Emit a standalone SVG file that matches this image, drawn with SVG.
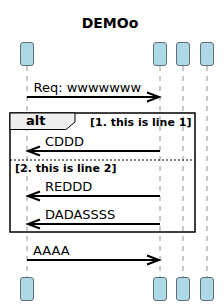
<svg xmlns="http://www.w3.org/2000/svg" width="224" height="308" viewBox="0 0 224 308">
<style>
.part{fill:#ADD8E6;stroke:#5F6F77;stroke-width:1}
.life{stroke:#777;stroke-width:0.8;stroke-dasharray:5,5;fill:none}
.msg{stroke:#000;stroke-width:1.8;fill:none}
.head{stroke:#000;stroke-width:2;fill:none;stroke-linejoin:miter}
.t{font-family:"DejaVu Sans",sans-serif;font-size:13px;fill:#000}
.b{font-family:"DejaVu Sans",sans-serif;font-weight:bold;fill:#000}
</style>
<rect width="224" height="308" fill="#fff"/>
<text class="b" x="110" y="28" font-size="14" text-anchor="middle">DEMOo</text>
<g id="lifelines">
<line class="life" x1="27" y1="66" x2="27" y2="277"/>
<line class="life" x1="160" y1="66" x2="160" y2="277"/>
<line class="life" x1="183" y1="66" x2="183" y2="277"/>
<line class="life" x1="207" y1="66" x2="207" y2="277"/>
</g>
<g id="p1"><rect class="part" x="20.5" y="42.5" width="13" height="23" rx="2.5"/><rect class="part" x="20.5" y="277.5" width="13" height="23" rx="2.5"/></g>
<g id="p2"><rect class="part" x="153.5" y="42.5" width="13" height="23" rx="2.5"/><rect class="part" x="153.5" y="277.5" width="13" height="23" rx="2.5"/></g>
<g id="p3"><rect class="part" x="176.5" y="42.5" width="13" height="23" rx="2.5"/><rect class="part" x="176.5" y="277.5" width="13" height="23" rx="2.5"/></g>
<g id="p4"><rect class="part" x="200.5" y="42.5" width="13" height="23" rx="2.5"/><rect class="part" x="200.5" y="277.5" width="13" height="23" rx="2.5"/></g>
<g id="alt">
<rect x="10" y="113" width="185" height="119" fill="none" stroke="#000" stroke-width="1.5"/>
<path d="M10,113 H75 V122 L66,129.5 H10 Z" fill="#EEEEEE" stroke="#000" stroke-width="1"/>
<text class="b" x="26" y="125" font-size="13">alt</text>
<text class="b" x="90" y="126" font-size="11">[1. this is line 1]</text>
<line x1="10" y1="160" x2="195" y2="160" stroke="#000" stroke-width="1" stroke-dasharray="2,2"/>
<text class="b" x="15" y="172" font-size="11">[2. this is line 2]</text>
</g>
<g id="connectors">
<line class="msg" x1="27" y1="97" x2="158" y2="97"/>
<polyline class="head" points="147,92.5 159,97 147,101.5"/>
<text class="t" x="33.5" y="92">Req: wwwwwww</text>
<line class="msg" x1="29" y1="151" x2="160" y2="151"/>
<polyline class="head" points="40,146.5 28,151 40,155.5"/>
<text class="t" x="45" y="146">CDDD</text>
<line class="msg" x1="29" y1="196" x2="160" y2="196"/>
<polyline class="head" points="40,191.5 28,196 40,200.5"/>
<text class="t" x="45" y="191">REDDD</text>
<line class="msg" x1="29" y1="224" x2="160" y2="224"/>
<polyline class="head" points="40,219.5 28,224 40,228.5"/>
<text class="t" x="45" y="219">DADASSSS</text>
<line class="msg" x1="27" y1="260" x2="158" y2="260"/>
<polyline class="head" points="147,255.5 159,260 147,264.5"/>
<text class="t" x="33" y="255">AAAA</text>
</g>
</svg>
